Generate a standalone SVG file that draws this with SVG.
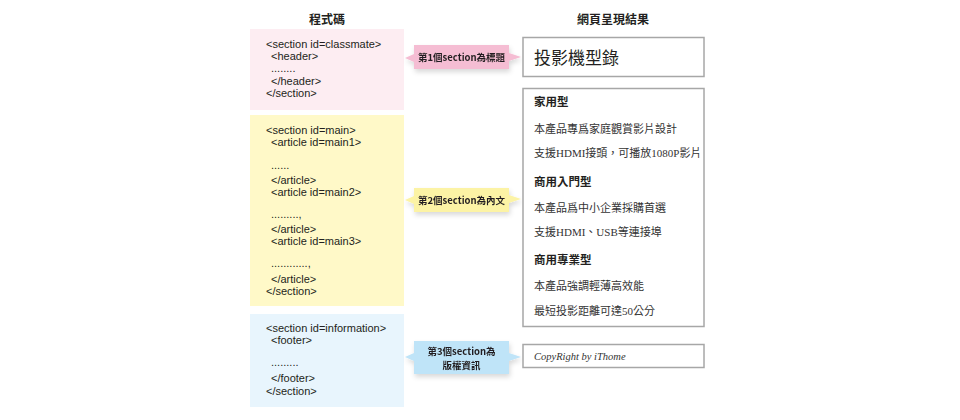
<svg xmlns="http://www.w3.org/2000/svg" width="960" height="420" viewBox="0 0 960 420">
<defs>
<filter id="sh" x="-20%" y="-30%" width="140%" height="180%">
<feDropShadow dx="1" dy="3" stdDeviation="2.5" flood-color="#000" flood-opacity="0.15"/>
</filter>
</defs>
<style>
.code{font-family:"Liberation Sans","Noto Sans",sans-serif;font-size:11px;fill:#231f20}
.head{font-family:"Noto Sans CJK TC",sans-serif;font-size:12px;font-weight:bold;fill:#231f20;text-anchor:middle}
.tag{font-family:"Noto Sans CJK TC",sans-serif;font-size:9.5px;font-weight:bold;fill:#231f20;text-anchor:middle}
.out{font-family:"Liberation Serif","Noto Sans CJK TC",serif;font-size:11px;fill:#333}
.outb{font-family:"Liberation Serif","Noto Sans CJK TC",serif;font-size:11.5px;font-weight:bold;fill:#231f20}
.box{fill:#fff;stroke:#a7a7a7;stroke-width:1.5}
</style>
<rect width="960" height="420" fill="#fff"/>
<text class="head" x="327" y="24">程式碼</text>
<text class="head" x="613" y="24">網頁呈現結果</text>

<g id="code1">
<rect x="250" y="29" width="154" height="81" fill="#fdedf2"/>
<text class="code" x="266" y="48">&lt;section id=classmate&gt;</text>
<text class="code" x="271" y="60">&lt;header&gt;</text>
<text class="code" x="271" y="72">........</text>
<text class="code" x="271" y="85">&lt;/header&gt;</text>
<text class="code" x="266" y="97">&lt;/section&gt;</text>
</g>
<g id="code2">
<rect x="250" y="115" width="154" height="191" fill="#fff9c8"/>
<text class="code" x="266" y="134">&lt;section id=main&gt;</text>
<text class="code" x="271" y="146">&lt;article id=main1&gt;</text>
<text class="code" x="271" y="169">......</text>
<text class="code" x="271" y="184">&lt;/article&gt;</text>
<text class="code" x="271" y="196">&lt;article id=main2&gt;</text>
<text class="code" x="271" y="218">.........,</text>
<text class="code" x="271" y="233">&lt;/article&gt;</text>
<text class="code" x="271" y="245">&lt;article id=main3&gt;</text>
<text class="code" x="271" y="267">............,</text>
<text class="code" x="271" y="283">&lt;/article&gt;</text>
<text class="code" x="266" y="295">&lt;/section&gt;</text>
</g>
<g id="code3">
<rect x="250" y="314" width="154" height="93" fill="#e8f5fd"/>
<text class="code" x="266" y="332">&lt;section id=information&gt;</text>
<text class="code" x="271" y="344">&lt;footer&gt;</text>
<text class="code" x="271" y="366">.........</text>
<text class="code" x="271" y="382">&lt;/footer&gt;</text>
<text class="code" x="266" y="395">&lt;/section&gt;</text>
</g>

<g id="connectors">
<g id="tag1" filter="url(#sh)">
<path d="M414,45 H509 V53 L521,57 L509,61 V69 H414 V62 L405,58 L414,54 Z" fill="#f5bdd3"/>
<text class="tag" x="461.5" y="61">第1個section為標題</text>
</g>
<g id="tag2" filter="url(#sh)">
<path d="M414,188 H509 V195 L521,199 L509,203 V212 H414 V204 L405,200 L414,196 Z" fill="#fcf3a5"/>
<text class="tag" x="461.5" y="204">第2個section為內文</text>
</g>
<g id="tag3" filter="url(#sh)">
<path d="M414,341 H509 V353 L521,357 L509,361 V374 H414 V361 L405,357 L414,353 Z" fill="#bfe4f8"/>
<text class="tag" x="461.5" y="355">第3個section為</text>
<text class="tag" x="461.5" y="369">版權資訊</text>
</g>
</g>

<g id="out1">
<rect class="box" x="523" y="37.5" width="181" height="39"/>
<text x="534" y="64" style="font-family:'Noto Sans CJK TC',serif;font-size:17px;fill:#231f20">投影機型錄</text>
</g>
<g id="out2">
<rect class="box" x="523" y="88.5" width="181" height="238"/>
<text class="outb" x="534" y="106">家用型</text>
<text class="out" x="534" y="133">本產品專爲家庭觀賞影片設計</text>
<text class="out" x="534" y="157">支援HDMI接頭，可播放1080P影片</text>
<text class="outb" x="534" y="186">商用入門型</text>
<text class="out" x="534" y="212">本產品爲中小企業採購首選</text>
<text class="out" x="534" y="236">支援HDMI、USB等連接埠</text>
<text class="outb" x="534" y="264">商用專業型</text>
<text class="out" x="534" y="290">本產品強調輕薄高效能</text>
<text class="out" x="534" y="315">最短投影距離可達50公分</text>
</g>
<g id="out3">
<rect class="box" x="523" y="344.5" width="181" height="23"/>
<text x="534" y="360" style="font-family:'Liberation Serif',serif;font-size:10.5px;font-style:italic;fill:#333">CopyRight by iThome</text>
</g>
</svg>
